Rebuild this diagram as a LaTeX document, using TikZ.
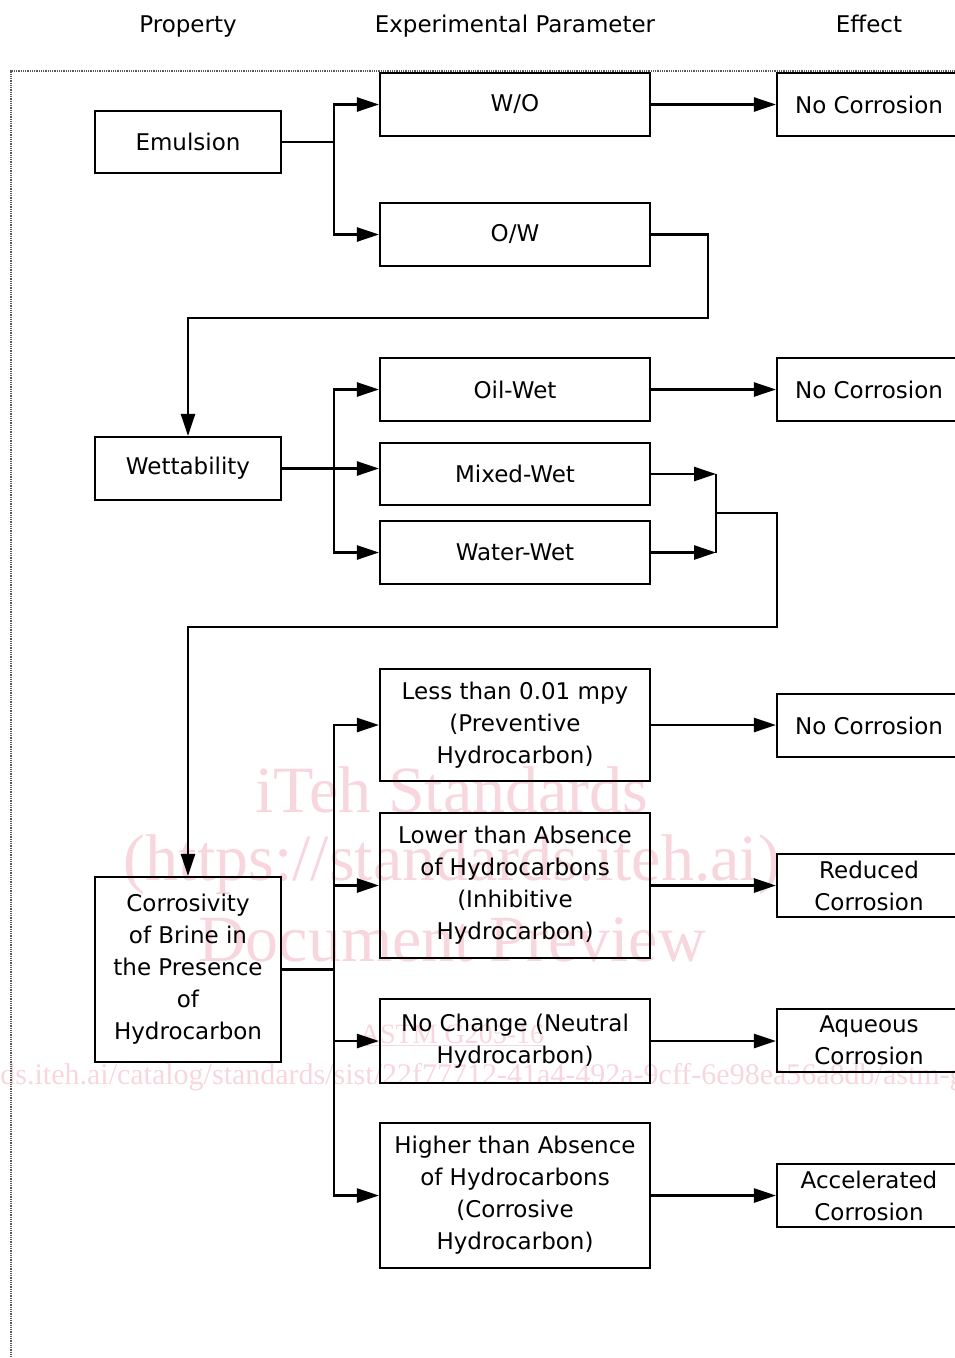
\documentclass[tikz,border=0pt]{standalone}
\usepackage{fontspec}
\setmainfont{DejaVu Sans}
\newfontfamily\wmfont{Liberation Serif}
\usetikzlibrary{arrows.meta}
\definecolor{wmpink}{RGB}{248,214,222}
\begin{document}
\begin{tikzpicture}[x=1pt, y=-1pt,
  box/.style={draw, line width=2.1pt, align=center, inner sep=0pt, font=\fontsize{23}{32}\selectfont},
  lbox/.style={box, minimum width=186pt},
  mbox/.style={box, minimum width=270pt},
  rbox/.style={box, minimum width=184pt, minimum height=63pt},
  head/.style={anchor=base, font=\fontsize{23}{32}\selectfont},
  arr/.style={line width=2.5pt, -{Triangle[length=22pt,width=14pt]}},
  wire/.style={line width=2.5pt},
  wmark/.style={text=wmpink, font=\wmfont\fontsize{66}{66}\selectfont}]

\useasboundingbox (0,0) rectangle (955,1358);
\clip (0,0) rectangle (955,1358);

% watermark
\node[wmark] (wm1) at (452,790) {iTeh Standards};
\node[wmark] (wm2) at (452,865) {(https://standards.iteh.ai)};
\node[wmark] (wm3) at (452,940) {Document Preview};
\node[text=wmpink, font=\wmfont\fontsize{28}{28}\selectfont] (wm4) at (452,1035) {\underline{ASTM G205-16}};
\node[text=wmpink, font=\wmfont\fontsize{30}{30}\selectfont] (wm5) at (440,1077) {https://standards.iteh.ai/catalog/standards/sist/22f77712-41a4-492a-9cff-6e98ea56a8db/astm-g205-16};

% headers
\node[head] (hprop) at (188,32) {Property};
\node[head] (hpar) at (515,32) {Experimental Parameter};
\node[head] (heff) at (869,32) {Effect};

% frame
\draw[black!65, line width=2pt, dash pattern=on 1pt off 0.8pt] (11,1400) |- (1000,71);

% boxes
\node[lbox, minimum height=62pt] (emul) at (188,142) {Emulsion};
\node[mbox, minimum height=63pt] (wo) at (515,104.5) {W/O};
\node[mbox, minimum height=63pt] (ow) at (515,234.5) {O/W};
\node[rbox] (nc1) at (869,104.5) {No Corrosion};

\node[lbox, minimum height=63pt] (wet) at (188,468.5) {Wettability};
\node[mbox, minimum height=63pt] (oil) at (515,389.5) {Oil-Wet};
\node[mbox, minimum height=62pt] (mix) at (515,474) {Mixed-Wet};
\node[mbox, minimum height=63pt] (wat) at (515,552.5) {Water-Wet};
\node[rbox] (nc2) at (869,389.5) {No Corrosion};

\node[lbox, minimum height=185pt] (cor) at (188,969.5) {Corrosivity\\of Brine in\\the Presence\\of\\Hydrocarbon};
\node[mbox, minimum height=112pt] (less) at (515,725) {Less than 0.01 mpy\\(Preventive\\Hydrocarbon)};
\node[mbox, minimum height=145pt] (low) at (515,885.5) {Lower than Absence\\of Hydrocarbons\\(Inhibitive\\Hydrocarbon)};
\node[mbox, minimum height=84pt] (neu) at (515,1041) {No Change (Neutral\\Hydrocarbon)};
\node[mbox, minimum height=145pt] (high) at (515,1195.5) {Higher than Absence\\of Hydrocarbons\\(Corrosive\\Hydrocarbon)};
\node[rbox] (nc3) at (869,725.5) {No Corrosion};
\node[rbox] (red) at (869,885.5) {Reduced\\Corrosion};
\node[rbox] (aq) at (869,1040.5) {Aqueous\\Corrosion};
\node[rbox] (acc) at (869,1195.5) {Accelerated\\Corrosion};

% junctions
\coordinate (j1) at (334,142);
\coordinate (j2) at (334,468.5);
\coordinate (j3) at (334,969.5);
\coordinate (k1) at (708,318);
\coordinate (m1) at (716,474);
\coordinate (m2) at (716,552.5);
\coordinate (m3) at (716,513);
\coordinate (k2) at (777,627);

% emulsion
\draw[wire] (emul.east) -- (j1);
\draw[arr] (j1) |- (wo.west);
\draw[arr] (j1) |- (ow.west);
\draw[arr] (wo.east) -- (nc1.west);
\draw[arr] (ow.east) -| (k1) -| (wet.north);

% wettability
\draw[wire] (wet.east) -- (j2);
\draw[arr] (j2) |- (oil.west);
\draw[arr] (j2) -- (mix.west |- j2);
\draw[arr] (j2) |- (wat.west);
\draw[arr] (oil.east) -- (nc2.west);
\draw[arr] (mix.east |- m1) -- (m1);
\draw[arr] (wat.east) -- (m2);
\draw[wire] (m1) -- (m2);
\draw[arr] (m3) -| (k2) -| (cor.north);

% corrosivity
\draw[wire] (cor.east) -- (j3);
\draw[arr] (j3) |- (less.west);
\draw[arr] (j3) |- (low.west);
\draw[arr] (j3) |- (neu.west);
\draw[arr] (j3) |- (high.west);
\draw[arr] (less.east) -- (nc3.west |- less.east);
\draw[arr] (low.east) -- (red.west);
\draw[arr] (neu.east) -- (aq.west |- neu.east);
\draw[arr] (high.east) -- (acc.west);
\end{tikzpicture}
\end{document}
